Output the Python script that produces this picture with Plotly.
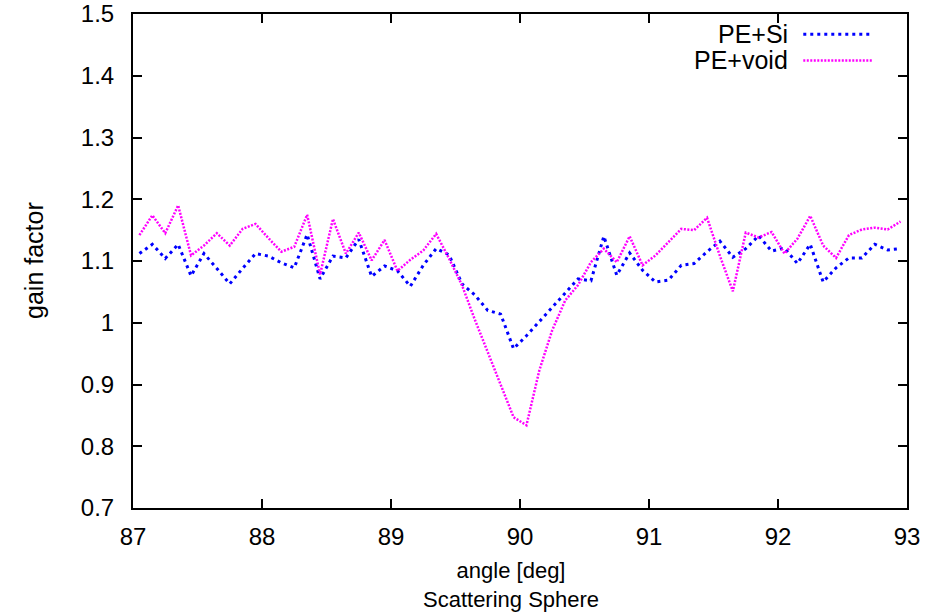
import plotly.graph_objects as go

angle = [87.05 + 0.1 * i for i in range(60)]

pe_si = [1.112, 1.127, 1.104, 1.127, 1.076, 1.112, 1.088, 1.063, 1.088, 1.112,
         1.108, 1.097, 1.089, 1.143, 1.071, 1.108, 1.105, 1.135, 1.075, 1.092,
         1.084, 1.059, 1.093, 1.120, 1.110, 1.063, 1.045, 1.020, 1.014, 0.958,
         0.979, 1.002, 1.025, 1.047, 1.071, 1.068, 1.140, 1.077, 1.113, 1.085,
         1.066, 1.069, 1.093, 1.096, 1.115, 1.132, 1.106, 1.120, 1.141, 1.116,
         1.121, 1.096, 1.127, 1.066, 1.089, 1.105, 1.105, 1.127, 1.118, 1.120]

pe_void = [1.142, 1.174, 1.145, 1.190, 1.109, 1.125, 1.145, 1.125, 1.152, 1.160,
           1.137, 1.115, 1.123, 1.175, 1.078, 1.168, 1.112, 1.146, 1.101, 1.134,
           1.084, 1.102, 1.117, 1.144, 1.104, 1.061, 1.005, 0.953, 0.900, 0.847,
           0.834, 0.923, 0.988, 1.036, 1.061, 1.098, 1.120, 1.098, 1.140, 1.093,
           1.109, 1.131, 1.152, 1.150, 1.170, 1.108, 1.051, 1.146, 1.138, 1.147,
           1.112, 1.136, 1.173, 1.125, 1.105, 1.142, 1.151, 1.154, 1.151, 1.164]

x_ticks = [87, 88, 89, 90, 91, 92, 93]
y_ticks = [0.7, 0.8, 0.9, 1.0, 1.1, 1.2, 1.3, 1.4, 1.5]
y_ticktext = ["0.7", "0.8", "0.9", "1", "1.1", "1.2", "1.3", "1.4", "1.5"]

series_names = ["PE+Si", "PE+void"]
series_colors = ["#0000ff", "#ff00ff"]
series_widths = [3, 2.5]
series_dash = ["3px,4px", "2px,1.5px"]

FONT = "Liberation Sans, Arial, sans-serif"
FS_TICK = 24
FS_TEXT = 25

fig = go.Figure()
for name, ys, col, w, d in zip(series_names, [pe_si, pe_void], series_colors, series_widths, series_dash):
    fig.add_trace(go.Scatter(x=angle, y=ys, mode="lines", name=name,
                             line=dict(color=col, width=w, dash=d),
                             showlegend=False))

# manual gnuplot-style legend (text left, sample right)
leg_y = [0.959, 0.906]
for name, col, w, d, ly in zip(series_names, series_colors, series_widths, series_dash, leg_y):
    fig.add_annotation(text=name, xref="paper", yref="paper", x=0.849, y=ly,
                       xanchor="right", yanchor="middle", showarrow=False,
                       font=dict(family=FONT, size=FS_TEXT, color="black"))
    fig.add_shape(type="line", xref="paper", yref="paper", x0=0.866, x1=0.955,
                  y0=ly, y1=ly, line=dict(color=col, width=w, dash=d))

# axis titles
fig.add_annotation(text="gain factor", xref="paper", yref="paper", x=-0.128, y=0.502,
                   textangle=-90, xanchor="center", yanchor="middle", showarrow=False,
                   font=dict(family=FONT, size=FS_TEXT, color="black"))
fig.add_annotation(text="angle [deg]<br>Scattering Sphere", xref="paper", yref="paper",
                   x=0.488, y=-0.1566, xanchor="center", yanchor="middle", showarrow=False,
                   font=dict(family=FONT, size=22, color="black"))

axis_common = dict(showline=True, linecolor="black", linewidth=2, mirror="ticks",
                   ticks="inside", ticklen=9, tickwidth=1.5, tickcolor="black",
                   showgrid=False, zeroline=False, automargin=False,
                   tickfont=dict(family=FONT, size=FS_TICK, color="black"))

fig.update_layout(
    width=940, height=614,
    margin=dict(l=133, r=33, t=14, b=106),
    paper_bgcolor="white", plot_bgcolor="white",
    xaxis=dict(range=[87, 93], tickvals=x_ticks, ticklabelstandoff=6, **axis_common),
    yaxis=dict(range=[0.7, 1.5], tickvals=y_ticks, ticktext=y_ticktext,
               ticklabelstandoff=12, **axis_common),
)

fig.write_html("out.html")
